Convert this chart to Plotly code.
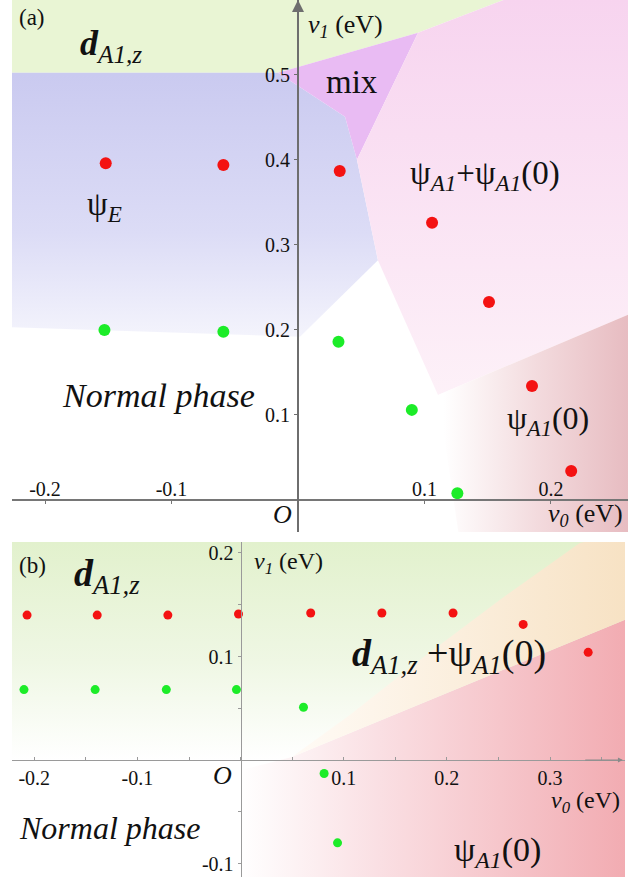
import plotly.graph_objects as go

W, H = 641, 877
FONT = "Liberation Serif"

# ---------------- Panel (a) data ----------------
a_red_v0 = [-0.152, -0.059, 0.033, 0.106, 0.151, 0.185, 0.216]
a_red_v1 = [0.396, 0.394, 0.387, 0.326, 0.233, 0.134, 0.034]
a_green_v0 = [-0.153, -0.059, 0.032, 0.090, 0.126]
a_green_v1 = [0.200, 0.198, 0.186, 0.106, 0.008]

# phase-region boundaries (a)
a_dz_v0 = [-0.23, -0.23, -0.0158, 0.0949, 0.1834]
a_dz_v1 = [0.60, 0.5024, 0.5024, 0.5494, 0.60]
a_mix_v0 = [-0.0158, 0.0949, 0.0466, 0.0372]
a_mix_v1 = [0.5024, 0.5494, 0.400, 0.4506]
a_psiE_v0 = [-0.23, -0.0158, 0.0372, 0.0466, 0.0632, 0.0016, -0.23]
a_psiE_v1 = [0.5024, 0.5024, 0.4506, 0.400, 0.282, 0.192, 0.2035]
a_mixA_v0 = [0.0949, 0.1834, 0.27, 0.27, 0.1107, 0.0632, 0.0466]
a_mixA_v1 = [0.5494, 0.60, 0.60, 0.2235, 0.1235, 0.282, 0.400]
a_A0_v0 = [0.1107, 0.27, 0.27, 0.128]
a_A0_v1 = [0.1235, 0.2235, -0.05, -0.05]

a_xticks = [-0.2, -0.1, 0.1, 0.2]
a_xticklabels = ["-0.2", "-0.1", "0.1", "0.2"]
a_yticks = [0.1, 0.2, 0.3, 0.4, 0.5]
a_yticklabels = ["0.1", "0.2", "0.3", "0.4", "0.5"]
a_xrange = [-0.2261, 0.2609]
a_yrange = [-0.0376, 0.588]

# ---------------- Panel (b) data ----------------
b_red_v0 = [-0.207, -0.139, -0.0705, -0.002, 0.068, 0.137, 0.206, 0.274, 0.337]
b_red_v1 = [0.140, 0.140, 0.140, 0.141, 0.142, 0.142, 0.142, 0.131, 0.104]
b_green_v0 = [-0.210, -0.141, -0.072, -0.004, 0.061, 0.081, 0.094]
b_green_v1 = [0.068, 0.068, 0.068, 0.068, 0.051, -0.013, -0.080]

b_dz_v0 = [-0.23, 0.38, 0.38, -0.23]
b_dz_v1 = [0.22, 0.22, -0.003, -0.003]
b_red_reg_v0 = [0.0497, 0.38, 0.38, 0.0, 0.0]
b_red_reg_v1 = [0.0029, 0.1386, -0.12, -0.12, -0.01]
b_wedge_v0 = [0.0497, 0.1059, 0.1737, 0.2512, 0.3288, 0.38, 0.38]
b_wedge_v1 = [0.0029, 0.0435, 0.0966, 0.1546, 0.2097, 0.22, 0.1386]

b_xticks = [-0.2, -0.1, 0.1, 0.2, 0.3]
b_xticklabels = ["-0.2", "-0.1", "0.1", "0.2", "0.3"]
b_yticks = [-0.1, 0.1, 0.2]
b_yticklabels = ["-0.1", "0.1", "0.2"]
b_minor_step = 0.05
b_xrange = [-0.2216, 0.3727]
b_yrange = [-0.113, 0.2106]

# domains in paper units (from pixel layout)
a_xdom = [12 / W, 628 / W]
a_ydom = [1 - 532 / H, 1.0]
b_xdom = [12 / W, 625 / W]
b_ydom = [0.0, 1 - 542 / H]


def paper_pos(val, rng, dom):
    return dom[0] + (val - rng[0]) / (rng[1] - rng[0]) * (dom[1] - dom[0])


fig = go.Figure()


def region(xs, ys, xa, ya, color=None, grad=None):
    kw = dict(x=xs, y=ys, xaxis=xa, yaxis=ya, mode="none", fill="toself",
              hoverinfo="skip", showlegend=False)
    if grad is not None:
        kw["fillgradient"] = grad
    else:
        kw["fillcolor"] = color
    fig.add_trace(go.Scatter(**kw))


# --- regions (a)
region(a_dz_v0, a_dz_v1, "x", "y", color="rgb(233,245,212)")
region(a_psiE_v0, a_psiE_v1, "x", "y", grad=dict(
    type="vertical", start=0.19, stop=0.5,
    colorscale=[[0, "rgb(244,244,252)"], [0.4, "rgb(220,220,246)"], [1, "rgb(202,202,240)"]]))
region(a_mix_v0, a_mix_v1, "x", "y", color="rgb(233,187,243)")
region(a_mixA_v0, a_mixA_v1, "x", "y", grad=dict(
    type="vertical", start=0.12, stop=0.59,
    colorscale=[[0, "rgb(253,241,248)"], [1, "rgb(247,212,239)"]]))
region(a_A0_v0, a_A0_v1, "x", "y", grad=dict(
    type="horizontal", start=0.115, stop=0.261,
    colorscale=[[0, "rgb(255,255,255)"], [0.5, "rgb(243,219,222)"], [1, "rgb(231,188,193)"]]))

# --- regions (b)
region(b_dz_v0, b_dz_v1, "x2", "y2", grad=dict(
    type="vertical", start=0.0, stop=0.21,
    colorscale=[[0, "rgb(255,255,255)"], [0.45, "rgb(239,247,228)"], [1, "rgb(226,241,205)"]]))
region(b_red_reg_v0, b_red_reg_v1, "x2", "y2", grad=dict(
    type="horizontal", start=0.0, stop=0.3727,
    colorscale=[[0, "rgb(255,255,255)"], [0.35, "rgb(250,224,228)"], [1, "rgb(242,172,178)"]]))
region(b_wedge_v0, b_wedge_v1, "x2", "y2", grad=dict(
    type="horizontal", start=0.05, stop=0.3727,
    colorscale=[[0, "rgb(255,251,246)"], [1, "rgb(247,226,196)"]]))

RED = "rgb(244,18,18)"
GREEN = "rgb(28,236,40)"

# --- points
fig.add_trace(go.Scatter(x=a_red_v0, y=a_red_v1, xaxis="x", yaxis="y", mode="markers",
                         marker=dict(color=RED, size=12, line=dict(width=0)),
                         showlegend=False, hoverinfo="skip"))
fig.add_trace(go.Scatter(x=a_green_v0, y=a_green_v1, xaxis="x", yaxis="y", mode="markers",
                         marker=dict(color=GREEN, size=12, line=dict(width=0)),
                         showlegend=False, hoverinfo="skip"))
fig.add_trace(go.Scatter(x=b_red_v0, y=b_red_v1, xaxis="x2", yaxis="y2", mode="markers",
                         marker=dict(color=RED, size=9, line=dict(width=0)),
                         showlegend=False, hoverinfo="skip"))
fig.add_trace(go.Scatter(x=b_green_v0, y=b_green_v1, xaxis="x2", yaxis="y2", mode="markers",
                         marker=dict(color=GREEN, size=9, line=dict(width=0)),
                         showlegend=False, hoverinfo="skip"))

tickfont = dict(family=FONT, size=20, color="#111")

fig.update_layout(
    width=W, height=H, margin=dict(l=0, r=0, t=0, b=0),
    font=dict(family=FONT),
    paper_bgcolor="white", plot_bgcolor="rgba(0,0,0,0)",
    xaxis=dict(domain=a_xdom, range=a_xrange, anchor="free",
               position=paper_pos(0, a_yrange, a_ydom),
               showgrid=False, zeroline=False, showline=True, linecolor="#767676", linewidth=1.5,
               tickmode="array", tickvals=a_xticks, ticktext=a_xticklabels,
               ticks="outside", ticklen=3, tickcolor="#767676",
               ticklabelposition="inside", tickfont=tickfont, automargin=False),
    yaxis=dict(domain=a_ydom, range=a_yrange, anchor="free",
               position=paper_pos(0, a_xrange, a_xdom),
               showgrid=False, zeroline=False, showline=True, linecolor="#6e6e6e", linewidth=2,
               tickmode="array", tickvals=a_yticks, ticktext=a_yticklabels,
               ticks="outside", ticklen=3, tickcolor="#6e6e6e",
               tickfont=tickfont, automargin=False),
    xaxis2=dict(domain=b_xdom, range=b_xrange, anchor="free",
                position=paper_pos(0, b_yrange, b_ydom),
                showgrid=False, zeroline=False, showline=True, linecolor="#9a9a9a", linewidth=1,
                tickmode="array", tickvals=b_xticks, ticktext=b_xticklabels,
                ticks="inside", ticklen=3, tickcolor="#9a9a9a",
                minor=dict(dtick=b_minor_step, tick0=0, ticks="inside", ticklen=3,
                           tickcolor="#9a9a9a", showgrid=False),
                tickfont=tickfont, automargin=False),
    yaxis2=dict(domain=b_ydom, range=b_yrange, anchor="free",
                position=paper_pos(0, b_xrange, b_xdom),
                showgrid=False, zeroline=False, showline=True, linecolor="#9a9a9a", linewidth=1,
                tickmode="array", tickvals=b_yticks, ticktext=b_yticklabels,
                ticks="outside", ticklen=3, tickcolor="#9a9a9a",
                minor=dict(dtick=b_minor_step, tick0=0, ticks="outside", ticklen=3,
                           tickcolor="#9a9a9a", showgrid=False),
                tickfont=tickfont, automargin=False),
)

# axis arrows
fig.add_annotation(x=0, y=a_yrange[1], ax=0, ay=a_yrange[1] - 0.05, xref="x", yref="y",
                   axref="x", ayref="y", text="", showarrow=True, arrowhead=2,
                   arrowsize=1.2, arrowwidth=2, arrowcolor="#6e6e6e")
fig.add_annotation(x=b_xrange[1] - 0.002, y=0, ax=b_xrange[1] - 0.04, ay=0, xref="x2", yref="y2",
                   axref="x2", ayref="y2", text="", showarrow=True, arrowhead=2,
                   arrowsize=1, arrowwidth=1, arrowcolor="#8a8a8a")


def label(text, x, y, xref, yref, size, xanchor="left"):
    fig.add_annotation(x=x, y=y, xref=xref, yref=yref, text=text, showarrow=False,
                       xanchor=xanchor, yanchor="middle",
                       font=dict(family=FONT, size=size, color="#111"))


DZ = "<b><i>d</i></b><sub><i>A1,z</i></sub>"
PSI_A1 = "ψ<sub><i>A1</i></sub>"

# labels (a)
label("(a)", -0.2221, 0.568, "x", "y", 23)
label(DZ, -0.1739, 0.534, "x", "y", 36)
label("<i>v</i><sub><i>1</i></sub> (eV)", 0.0063, 0.558, "x", "y", 26)
label("mix", 0.0427, 0.4918, "x", "y", 33, xanchor="center")
label(PSI_A1 + "+" + PSI_A1 + "(0)", 0.087, 0.382, "x", "y", 33)
label("ψ<sub><i>E</i></sub>", -0.1684, 0.3447, "x", "y", 33)
label("<i>Normal phase</i>", -0.188, 0.1235, "x", "y", 34)
label(PSI_A1 + "(0)", 0.1636, 0.094, "x", "y", 32)
label("<i>O</i>", -0.0119, -0.0176, "x", "y", 26, xanchor="center")
label("<i>v</i><sub><i>0</i></sub> (eV)", 0.2585, -0.0176, "x", "y", 26, xanchor="right")

# labels (b)
label("(b)", -0.2168, 0.188, "x2", "y2", 23)
label(DZ, -0.1635, 0.178, "x2", "y2", 38)
label("<i>v</i><sub><i>1</i></sub> (eV)", 0.011, 0.19, "x2", "y2", 24)
label("<i>O</i>", -0.018, -0.0150, "x2", "y2", 26, xanchor="center")
label("<i>v</i><sub><i>0</i></sub> (eV)", 0.3702, -0.0406, "x2", "y2", 24, xanchor="right")
label("<i>Normal phase</i>", -0.2168, -0.0657, "x2", "y2", 32)
label(DZ + " +" + PSI_A1 + "(0)", 0.106, 0.1005, "x2", "y2", 38)
label(PSI_A1 + "(0)", 0.2047, -0.0889, "x2", "y2", 34)

fig.write_html("out.html", config={"displayModeBar": False},
               post_script="document.body.style.margin='0px';")
